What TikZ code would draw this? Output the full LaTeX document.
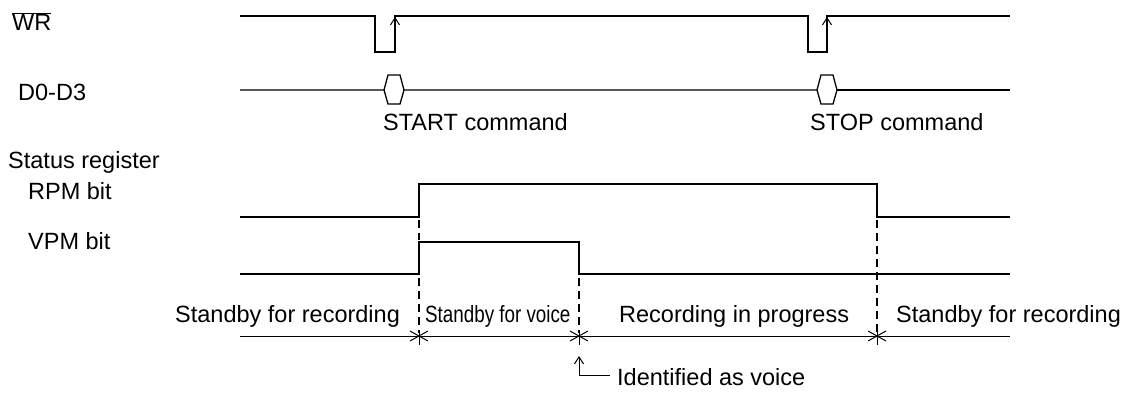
\documentclass[tikz,border=0pt]{standalone}
\usepackage{fontspec}
\setmainfont{Liberation Sans}
\usetikzlibrary{arrows.meta}
\begin{document}
\begin{tikzpicture}[x=1pt,y=-1pt,
  sig/.style={line width=1.3pt, line join=miter},
  lbl/.style={inner sep=0pt, anchor=base west, font=\fontsize{23.5}{26}\selectfont},
  dsh/.style={line width=2pt, dash pattern=on 8pt off 5pt},
  tick/.style={line width=1pt},
  upar/.style={line width=1pt, -{Straight Barb[length=7pt,width=9pt]}}]
\useasboundingbox (0,0) rectangle (1130,396);
% labels
\node[lbl] (wr) at (12,31) {$\overline{\mbox{WR}}$};
\node[lbl] (d) at (18,100) {D0-D3};
\node[lbl] (start) at (383,130) {START command};
\node[lbl] (stop) at (810,130) {STOP command};
\node[lbl] (sr) at (8,168) {Status register};
\node[lbl] (rpm) at (28,199) {RPM bit};
\node[lbl] (vpm) at (28,249) {VPM bit};
% WR
\coordinate (wr0) at (240,16);
\coordinate (wr1) at (1010,16);
\draw[sig] (wr0) -- (375,16) -- (375,52) -- (395,52) -- (395,16) -- (808,16) -- (808,52) -- (827,52) -- (827,16) -- (wr1);
\coordinate (a1s) at (395,40); \coordinate (a1e) at (395,17);
\coordinate (a2s) at (827,40); \coordinate (a2e) at (827,17);
\draw[upar] (a1s) -- (a1e);
\draw[upar] (a2s) -- (a2e);
% D0-D3
\draw[sig] (240,90) -- (384,90) -- (388,75) -- (400,75) -- (404,90) -- (400,104) -- (388,104) -- (384,90);
\draw[sig] (404,90) -- (817,90) -- (821,75) -- (833,75) -- (837,90) -- (833,104) -- (821,104) -- (817,90);
\draw[sig] (837,90) -- (1010,90);
% RPM
\draw[sig] (240,217) -- (419,217) -- (419,184) -- (877,184) -- (877,217) -- (1010,217);
% VPM
\draw[sig] (240,274) -- (419,274) -- (419,242) -- (579,242) -- (579,274) -- (1010,274);
% dashed
\draw[dsh] (419,220) -- (419,240);
\draw[dsh] (419,278) -- (419,333);
\draw[dsh] (579,278) -- (579,333);
\draw[dsh] (877,220) -- (877,333);
% timeline
\coordinate (t0) at (240,336);
\coordinate (t1) at (1010,336);
\draw[tick] (t0) -- (t1);
\foreach \x in {419,579,877}{
  \draw[tick] (\x-9,331) -- (\x+9,341);
  \draw[tick] (\x-9,341) -- (\x+9,331);
  \draw[tick] (\x,330) -- (\x,345);
}
% timeline labels
\node[lbl] (s1) at (175,322) {Standby for recording};
\node[lbl] (s2) at (425,322) {\scalebox{0.8}[1]{Standby for voice}};
\node[lbl] (s3) at (619,322) {Recording in progress};
\node[lbl] (s4) at (896,322) {Standby for recording};
% identified
\coordinate (ia) at (610,375);
\coordinate (ib) at (579,375);
\coordinate (ic) at (579,356);
\draw[upar] (ia) -- (ib) -- (ic);
\node[lbl] (id) at (617,385) {Identified as voice};
\end{tikzpicture}
\end{document}
